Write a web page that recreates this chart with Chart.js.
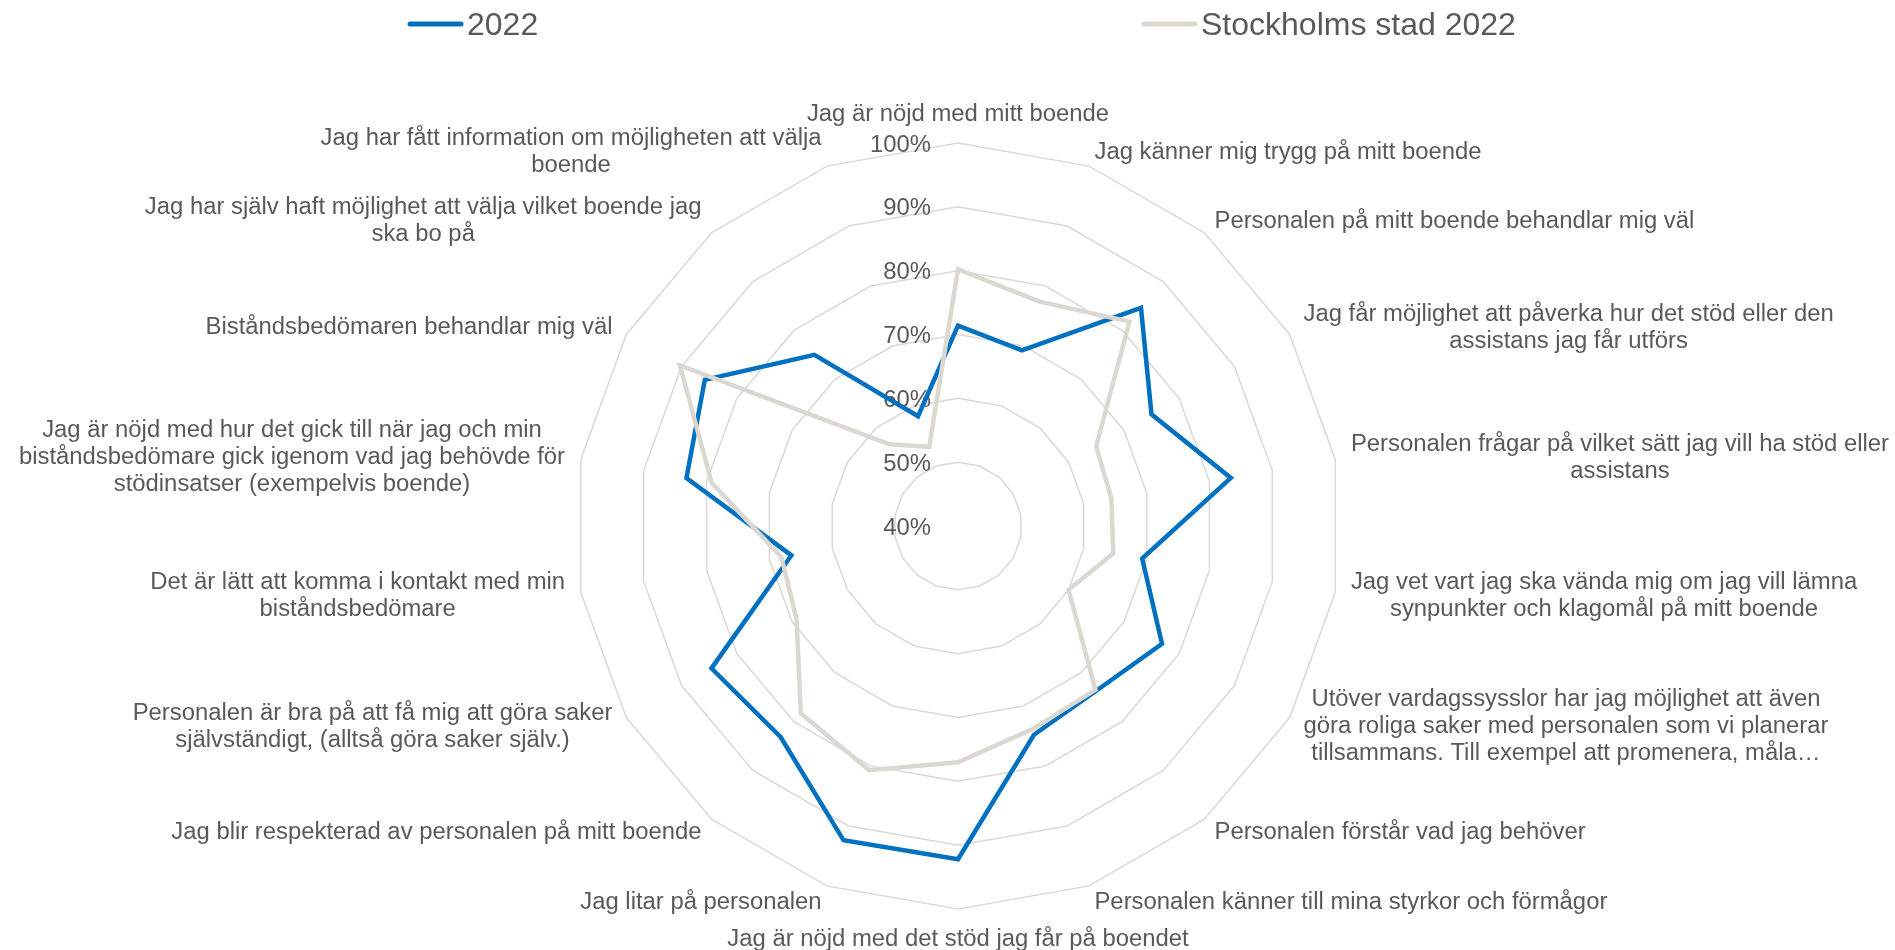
<!DOCTYPE html>
<html>
<head>
<meta charset="utf-8">
<title>Radar 2022</title>
<script src="https://cdn.jsdelivr.net/npm/chart.js@4.4.1/dist/chart.umd.min.js"></script>
<style>
  html, body { margin: 0; padding: 0; background: #fff; }
  #wrap { width: 1895px; height: 950px; position: relative; }
</style>
</head>
<body>
<div id="wrap"><canvas id="chart"></canvas></div>
<script>
// categories, clockwise from the top (line breaks as in the original)
var categories = [
  ['Jag är nöjd med mitt boende'],
  ['Jag känner mig trygg på mitt boende'],
  ['Personalen på mitt boende behandlar mig väl'],
  ['Jag får möjlighet att påverka hur det stöd eller den', 'assistans jag får utförs'],
  ['Personalen frågar på vilket sätt jag vill ha stöd eller', 'assistans'],
  ['Jag vet vart jag ska vända mig om jag vill lämna', 'synpunkter och klagomål på mitt boende'],
  ['Utöver vardagssysslor har jag möjlighet att även', 'göra roliga saker med personalen som vi planerar', 'tillsammans. Till exempel att promenera, måla…'],
  ['Personalen förstår vad jag behöver'],
  ['Personalen känner till mina styrkor och förmågor'],
  ['Jag är nöjd med det stöd jag får på boendet'],
  ['Jag litar på personalen'],
  ['Jag blir respekterad av personalen på mitt boende'],
  ['Personalen är bra på att få mig att göra saker', 'självständigt, (alltså göra saker själv.)'],
  ['Det är lätt att komma i kontakt med min', 'biståndsbedömare'],
  ['Jag är nöjd med hur det gick till när jag och min', 'biståndsbedömare gick igenom vad jag behövde för', 'stödinsatser (exempelvis boende)'],
  ['Biståndsbedömaren behandlar mig väl'],
  ['Jag har själv haft möjlighet att välja vilket boende jag', 'ska bo på'],
  ['Jag har fått information om möjligheten att välja', 'boende']
];

var seriesNames = ['2022', 'Stockholms stad 2022'];

// percent
var series2022 = [71.4, 69.3, 84.6, 75.0, 83.4, 69.3, 76.9, 73.7, 74.8, 92.2, 92.4, 83.2, 84.6, 66.5, 83.2, 85.8, 75.0, 58.3];
var seriesStockholm = [80.2, 77.4, 81.8, 65.0, 64.4, 64.7, 60.0, 73.5, 73.9, 77.0, 80.7, 78.3, 69.2, 68.1, 79.2, 90.3, 56.7, 53.2];

var tickValues = [40, 50, 60, 70, 80, 90, 100];
var tickLabels = ['40%', '50%', '60%', '70%', '80%', '90%', '100%'];

var FONT = "'Liberation Sans', Arial, sans-serif";
var TEXT = '#595959';
var BLUE = '#0070C0';
var GREY = '#DBD8D2';

// Excel-like labels: ticks left of the axis, category blocks with centred lines
var excelLabels = {
  id: 'excelLabels',
  beforeDatasetsDraw: function (chart) {
    var r = chart.scales.r;
    var ctx = chart.ctx;
    ctx.save();
    ctx.font = '23.85px ' + FONT;
    ctx.fillStyle = TEXT;
    ctx.textAlign = 'right';
    ctx.textBaseline = 'middle';
    tickValues.forEach(function (v, k) {
      var y = r.yCenter - r.getDistanceFromCenterForValue(v);
      ctx.fillText(tickLabels[k], r.xCenter - 27, y + 2);
    });
    ctx.restore();
  },
  afterDraw: function (chart) {
    var r = chart.scales.r;
    var ctx = chart.ctx;
    var lh = 27, gap = 16;
    ctx.save();
    ctx.font = '23.85px ' + FONT;
    ctx.fillStyle = TEXT;
    ctx.textAlign = 'center';
    ctx.textBaseline = 'middle';
    categories.forEach(function (lines, i) {
      var p = r.getPointPosition(i, r.drawingArea + gap);
      var deg = Math.round(i * 360 / categories.length);
      var w = Math.max.apply(null, lines.map(function (l) { return ctx.measureText(l).width; }));
      var h = lines.length * lh;
      var cx, top;
      if (deg === 0) { cx = p.x; top = p.y - h; }
      else if (deg === 180) { cx = p.x; top = p.y; }
      else if (deg < 180) { cx = p.x + w / 2; top = p.y - h / 2; }
      else { cx = p.x - w / 2; top = p.y - h / 2; }
      lines.forEach(function (l, k) {
        ctx.fillText(l, cx, top + lh * (k + 0.5) + 1);
      });
    });

    // legend
    var items = [
      { x: 410, color: BLUE, text: seriesNames[0] },
      { x: 1144, color: GREY, text: seriesNames[1] }
    ];
    ctx.font = '32px ' + FONT;
    ctx.textAlign = 'left';
    items.forEach(function (it) {
      ctx.strokeStyle = it.color;
      ctx.lineWidth = 5;
      ctx.lineCap = 'round';
      ctx.beginPath();
      ctx.moveTo(it.x, 24);
      ctx.lineTo(it.x + 51, 24);
      ctx.stroke();
      ctx.fillText(it.text, it.x + 57, 26);
    });
    ctx.restore();
  }
};

new Chart(document.getElementById('chart'), {
  type: 'radar',
  data: {
    labels: categories,
    datasets: [
      {
        label: seriesNames[0],
        data: series2022,
        borderColor: BLUE,
        backgroundColor: BLUE,
        borderWidth: 4.5,
        pointRadius: 0,
        fill: false,
        order: 2
      },
      {
        label: seriesNames[1],
        data: seriesStockholm,
        borderColor: GREY,
        backgroundColor: GREY,
        borderWidth: 4.5,
        pointRadius: 0,
        fill: false,
        order: 1
      }
    ]
  },
  options: {
    responsive: true,
    maintainAspectRatio: false,
    animation: false,
    layout: { padding: { top: 143, bottom: 41, left: 575, right: 554 } },
    elements: { line: { tension: 0 } },
    plugins: {
      legend: { display: false },
      tooltip: { enabled: false }
    },
    scales: {
      r: {
        min: 40,
        max: 100,
        ticks: { display: false, stepSize: 10 },
        pointLabels: { display: false },
        angleLines: { display: false },
        grid: { color: '#D9D9D9', lineWidth: 1.5 }
      }
    }
  },
  plugins: [excelLabels]
});
</script>
</body>
</html>
